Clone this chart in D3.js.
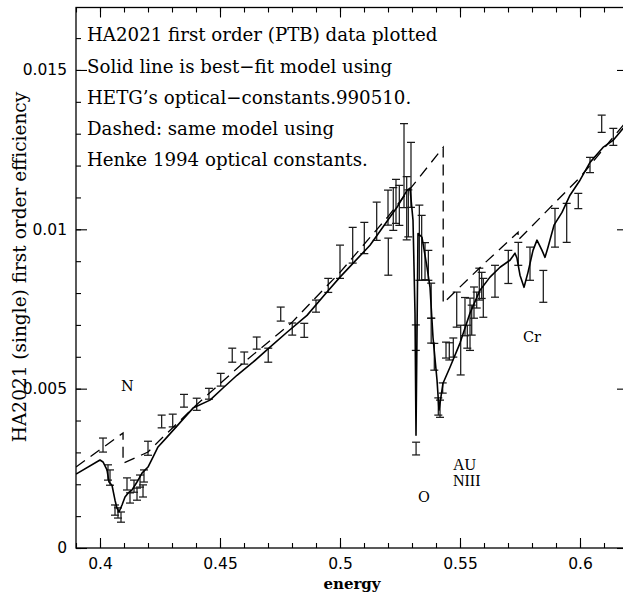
<!DOCTYPE html>
<html><head><meta charset="utf-8">
<script src="https://cdn.jsdelivr.net/npm/d3@7"></script>
<style>body{margin:0;background:#fff}</style>
</head><body>
<svg id="c" width="623" height="594"></svg>
<script>
// ---- data ----
const xMajorTicks = [0.4, 0.45, 0.5, 0.55, 0.6];
const xTickLabels = ["0.4", "0.45", "0.5", "0.55", "0.6"];
const yMajorTicks = [0, 0.005, 0.01, 0.015];
const yTickLabels = ["0", "0.005", "0.01", "0.015"];

const headerLines = [
  "HA2021 first order (PTB) data plotted",
  "Solid line is best\u2212fit model using",
  "HETG\u2019s optical\u2212constants.990510.",
  "Dashed: same model using",
  "Henke 1994 optical constants."
];

// best-fit model (solid)
const solidE = [0.39,0.4,0.40125,0.40292,0.40375,0.405,0.40625,0.40708,0.40792,0.40917,0.41042,0.41167,0.41333,0.41542,0.4175,0.42,0.42208,0.42417,0.42792,0.43875,0.44583,0.45125,0.45708,0.46375,0.47083,0.47792,0.48625,0.49458,0.5,0.5125,0.52375,0.52792,0.52917,0.53042,0.53125,0.53167,0.5325,0.53417,0.53625,0.5375,0.53875,0.54042,0.54125,0.54292,0.54583,0.55,0.55417,0.55833,0.5625,0.56667,0.57083,0.57292,0.57375,0.575,0.57667,0.57833,0.58042,0.58208,0.58417,0.58542,0.58667,0.58917,0.5925,0.59583,0.6,0.60417,0.60958,0.61375,0.62];
const solidEff = [0.00232,0.00276,0.0027,0.00245,0.00207,0.00197,0.0015,0.00125,0.00113,0.00135,0.0016,0.00172,0.00182,0.00207,0.00235,0.00254,0.00285,0.00317,0.00348,0.00439,0.00464,0.00502,0.00542,0.00583,0.0063,0.00677,0.0073,0.00803,0.0085,0.0095,0.01069,0.01122,0.01129,0.01028,0.00737,0.00354,0.00987,0.00975,0.00881,0.00818,0.00661,0.00527,0.00433,0.00517,0.00567,0.00643,0.00737,0.00809,0.0085,0.00881,0.00903,0.00925,0.00909,0.00856,0.00818,0.00865,0.00934,0.00966,0.00934,0.00912,0.00944,0.01013,0.01053,0.01107,0.01154,0.0121,0.01257,0.01279,0.01335];

// Henke 1994 model (dashed)
const dashedE = [0.39,0.4096,0.4096,0.42,0.425,0.44,0.46,0.48,0.5,0.52,0.543,0.543,0.56,0.5742,0.5742,0.6,0.62];
const dashedEff = [0.00254,0.00361,0.00266,0.00301,0.00339,0.00448,0.00583,0.00708,0.00865,0.0104,0.01257,0.00768,0.00892,0.00991,0.00966,0.01163,0.01345];

// measured points with error bars
const dataE = [0.40125,0.40333,0.40417,0.40625,0.4075,0.40875,0.41125,0.4125,0.41417,0.41542,0.41667,0.41792,0.41833,0.42,
  0.42569,0.4303,0.435,0.4403,0.4454,0.4503,0.4551,0.4601,0.4653,0.4701,0.4753,0.4801,0.4851,0.49,0.4951,
  0.5,0.50529,0.51013,0.51529,0.52013,0.52,0.5222,0.52333,0.52472,0.52667,0.52779,0.52847,0.52958,
  0.53306,0.53403,0.53542,0.53681,0.5317,0.5316,0.53799,0.53799,0.53929,0.54096,0.54167,0.54279,
  0.54417,0.54554,0.54721,0.54863,0.55029,0.55208,0.55304,0.55417,0.55488,0.55583,0.55696,0.55804,0.55904,0.55971,
  0.56458,0.57013,0.57429,0.57917,0.58471,0.58958,0.59446,0.59929,0.60417,0.60904,0.61388];
const dataEff = [0.00323,0.00237,0.00221,0.00119,0.0011,0.00097,0.00201,0.00157,0.00194,0.00169,0.0021,0.00179,0.00226,0.00313,
  0.00397,0.004,0.00462,0.00451,0.00484,0.00528,0.00605,0.00596,0.00643,0.00605,0.00734,0.00687,0.00683,0.00759,0.00824,
  0.00898,0.0095,0.00973,0.01025,0.00914,0.01068,0.01064,0.01088,0.01075,0.012,0.01066,0.0105,0.01171,
  0.00958,0.00942,0.009,0.00887,0.00312,0.0066,0.00776,0.00682,0.006,0.00444,0.00437,0.00502,
  0.00621,0.00617,0.00629,0.00748,0.00621,0.00726,0.00663,0.00702,0.00715,0.0077,0.00778,0.00828,0.00824,0.00785,
  0.00837,0.00882,0.00923,0.00892,0.00821,0.01005,0.0102,0.01089,0.01202,0.01331,0.0129];
const dataErr = [0.00022,0.00024,0.00024,0.00016,0.00016,0.00016,0.00019,0.00016,0.00019,0.00019,0.00019,0.00019,0.00019,0.00022,
  0.0002,0.0002,0.0002,0.00019,0.00017,0.0002,0.00022,0.00019,0.00019,0.00022,0.00022,0.00019,0.00022,0.00019,0.00022,
  0.00052,0.00056,0.00049,0.0006,0.00058,0.00055,0.00067,0.00069,0.00063,0.00132,0.00099,0.00074,0.00102,
  0.00118,0.00102,0.00058,0.00047,0.0002,0.0004,0.00055,0.00039,0.00042,0.00027,0.00027,0.00016,
  0.00025,0.00027,0.0003,0.00055,0.00078,0.0006,0.00036,0.00082,0.00047,0.00049,0.00025,0.0005,0.00041,0.00061,
  0.0005,0.00052,0.00036,0.00052,0.0005,0.00061,0.00061,0.00024,0.00024,0.00027,0.00027];

// edge annotations [label, energy, efficiency]
const annoText = ["N", "O", "AU", "NIII", "Cr"];
const annoE = [0.40875, 0.5325, 0.54708, 0.54708, 0.57625];
const annoEff = [0.00493, 0.00144, 0.00245, 0.00195, 0.00646];

// ---- drawing ----
const svg = d3.select("#c");
const L = 76, R = 628, T = 7.5, B = 548;
const x = d3.scaleLinear().domain([0.39, 0.62]).range([L, R]);
const y = d3.scaleLinear().domain([0, 0.01696]).range([B, T]);

const xMinor = d3.range(39, 63).map(d => d / 100);
const yMinor = d3.range(0, 17).map(d => d / 1000);

svg.append("defs").append("clipPath").attr("id", "clip")
  .append("rect").attr("x", L).attr("y", T).attr("width", R - L).attr("height", B - T);

function styleAxis(g) {
  g.select(".domain").remove();
  g.selectAll(".tick line").attr("stroke", "#000").attr("stroke-width", 1.1);
}
const tickFont = "DejaVu Sans, sans-serif";

// bottom
svg.append("g").attr("transform", `translate(0,${B})`)
  .call(d3.axisBottom(x).tickValues(xMinor).tickSize(-5).tickFormat(""))
  .call(styleAxis);
svg.append("g").attr("transform", `translate(0,${B})`)
  .call(d3.axisBottom(x).tickValues(xMajorTicks).tickSize(-10).tickPadding(10)
    .tickFormat((d, i) => xTickLabels[i]))
  .call(styleAxis)
  .call(g => g.selectAll("text").attr("font-family", tickFont).attr("font-size", 15.5).attr("fill", "#000"));
// top
svg.append("g").attr("transform", `translate(0,${T})`)
  .call(d3.axisTop(x).tickValues(xMinor).tickSize(-5).tickFormat("")).call(styleAxis);
svg.append("g").attr("transform", `translate(0,${T})`)
  .call(d3.axisTop(x).tickValues(xMajorTicks).tickSize(-10).tickFormat("")).call(styleAxis);
// left
svg.append("g").attr("transform", `translate(${L},0)`)
  .call(d3.axisLeft(y).tickValues(yMinor).tickSize(-5).tickFormat("")).call(styleAxis);
svg.append("g").attr("transform", `translate(${L},0)`)
  .call(d3.axisLeft(y).tickValues(yMajorTicks).tickSize(-11).tickPadding(9)
    .tickFormat((d, i) => yTickLabels[i]))
  .call(styleAxis)
  .call(g => g.selectAll("text").attr("font-family", tickFont).attr("font-size", 15.5).attr("fill", "#000"));
// right
svg.append("g").attr("transform", `translate(${R},0)`)
  .call(d3.axisRight(y).tickValues(yMinor).tickSize(-5).tickFormat("")).call(styleAxis);
svg.append("g").attr("transform", `translate(${R},0)`)
  .call(d3.axisRight(y).tickValues(yMajorTicks).tickSize(-11).tickFormat("")).call(styleAxis);

// frame
svg.append("rect").attr("x", L).attr("y", T).attr("width", R - L).attr("height", B - T)
  .attr("fill", "none").attr("stroke", "#000").attr("stroke-width", 1.3);

const plot = svg.append("g").attr("clip-path", "url(#clip)");

// error bars
const pts = dataE.map((e, i) => ({e, v: dataEff[i], s: dataErr[i]}));
const eb = plot.append("g").attr("stroke", "#1a1a1a").attr("stroke-width", 1.25).attr("fill", "none");
pts.forEach(p => {
  const cx = x(p.e), y0 = y(p.v - p.s), y1 = y(p.v + p.s);
  eb.append("line").attr("x1", cx).attr("x2", cx).attr("y1", y0).attr("y2", y1);
  eb.append("line").attr("x1", cx - 4).attr("x2", cx + 4).attr("y1", y0).attr("y2", y0);
  eb.append("line").attr("x1", cx - 4).attr("x2", cx + 4).attr("y1", y1).attr("y2", y1);
});

const line = d3.line().x(d => x(d[0])).y(d => y(d[1]));
plot.append("path").datum(dashedE.map((e, i) => [e, dashedEff[i]]))
  .attr("d", line).attr("fill", "none").attr("stroke", "#000").attr("stroke-width", 1.3)
  .attr("stroke-dasharray", "11,7");
plot.append("path").datum(solidE.map((e, i) => [e, solidEff[i]]))
  .attr("d", line).attr("fill", "none").attr("stroke", "#000").attr("stroke-width", 1.6)
  .attr("stroke-linejoin", "round");

// header text
const hdrY = [41, 73, 104, 135, 166];
svg.append("g").selectAll("text").data(headerLines).join("text")
  .attr("x", 87).attr("y", (d, i) => hdrY[i])
  .attr("font-family", "DejaVu Serif, serif").attr("font-size", 18.2).attr("fill", "#000")
  .text(d => d);

// annotations
svg.append("g").selectAll("text").data(annoText).join("text")
  .attr("x", (d, i) => x(annoE[i])).attr("y", (d, i) => y(annoEff[i]))
  .attr("font-family", (d, i) => (i === 2 || i === 3) ? "Liberation Serif, serif" : "DejaVu Serif, serif")
  .attr("font-size", (d, i) => (i === 2 || i === 3) ? 16 : 14.5)
  .attr("fill", "#000")
  .text(d => d);

// axis titles
svg.append("text").attr("x", (L + R) / 2).attr("y", 589).attr("text-anchor", "middle")
  .attr("font-family", "DejaVu Serif, serif").attr("font-weight", "bold").attr("font-size", 15)
  .text("energy");
svg.append("text").attr("transform", "translate(26,267) rotate(-90)").attr("text-anchor", "middle")
  .attr("font-family", "DejaVu Serif, serif").attr("font-size", 18.5)
  .text("HA2021 (single) first order efficiency");
</script>
</body></html>
